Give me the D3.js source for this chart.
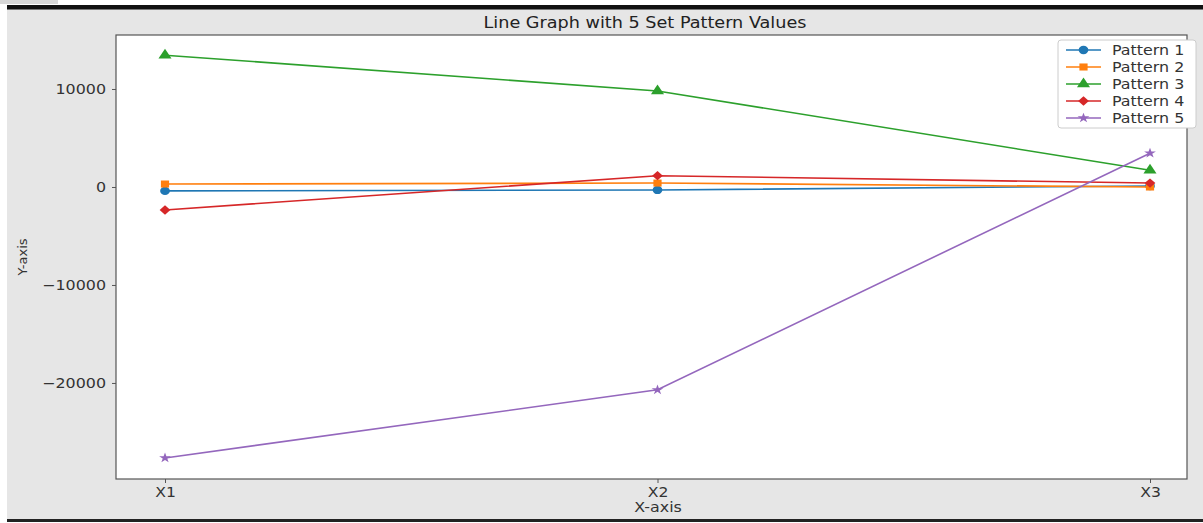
<!DOCTYPE html>
<html><head><meta charset="utf-8">
<script src="https://cdn.jsdelivr.net/npm/d3@7"></script>
<style>
body{margin:0;background:#fff;}
svg{display:block;font-family:"DejaVu Sans",sans-serif;}
</style></head>
<body><svg id="c" width="1203" height="523"></svg>
<script>
const categories = ["X1","X2","X3"];
const seriesNames = ["Pattern 1","Pattern 2","Pattern 3","Pattern 4","Pattern 5"];
const pattern1 = [-400, -300, 100];
const pattern2 = [300, 400, 0];
const pattern3 = [13450, 9800, 1700];
const pattern4 = [-2350, 1150, 400];
const pattern5 = [-27650, -20700, 3450];
const yTicks = [-20000, -10000, 0, 10000];
const colors = ["#1f77b4","#ff7f0e","#2ca02c","#d62728","#9467bd"];
const symbols = [d3.symbolCircle, d3.symbolSquare, d3.symbolTriangle, d3.symbolDiamond2, d3.symbolStar];
const sizes = [55, 50, 55, 55, 32];
const seriesVals = [pattern1, pattern2, pattern3, pattern4, pattern5];
const SX = 1.16; // horizontal stretch of the reference image text

const svg = d3.select("#c");
// screenshot frame
svg.append("rect").attr("x",0).attr("y",0).attr("width",58).attr("height",4).attr("fill","#d8d8d8");
svg.append("rect").attr("x",7).attr("y",5).attr("width",1196).attr("height",515).attr("fill","#e6e6e6");
svg.append("rect").attr("x",7).attr("y",5).attr("width",1196).attr("height",4).attr("fill","#111");
svg.append("rect").attr("x",7).attr("y",9).attr("width",1196).attr("height",1).attr("fill","#777");
svg.append("rect").attr("x",7).attr("y",519).attr("width",1196).attr("height",3).attr("fill","#222");

const L=116, R=1187, T=35, B=479;
const x = d3.scalePoint().domain(categories).range([165,1150]);
const y = d3.scaleLinear().domain([-29800, 15510]).range([B, T]);

svg.append("rect").attr("x",L).attr("y",T).attr("width",R-L).attr("height",B-T)
  .attr("fill","#fff").attr("stroke","#555").attr("stroke-width",1.2);

function stretch(sel){
  sel.each(function(){
    const t = d3.select(this);
    const xv = +t.attr("x") || 0, yv = +t.attr("y") || 0;
    t.attr("x",0).attr("y",0).attr("transform",`translate(${xv},${yv}) scale(${SX},1)`);
  });
}

const fmt = d => (d<0?"\u2212":"") + Math.abs(d);
const yAxis = svg.append("g").attr("transform",`translate(${L},0)`)
  .call(d3.axisLeft(y).tickValues(yTicks).tickFormat(fmt).tickSize(4).tickPadding(6));
yAxis.select(".domain").remove();
yAxis.selectAll("text").attr("font-size",13.7).attr("fill","#333").attr("font-family","DejaVu Sans").call(stretch);
yAxis.selectAll("line").attr("stroke","#555");

const xAxis = svg.append("g").attr("transform",`translate(0,${B})`)
  .call(d3.axisBottom(x).tickSize(4).tickPadding(4));
xAxis.select(".domain").remove();
xAxis.selectAll("text").attr("font-size",13.5).attr("fill","#333").attr("font-family","DejaVu Sans").call(stretch);
xAxis.selectAll("line").attr("stroke","#555");

svg.append("text").attr("x",645).attr("y",28).attr("text-anchor","middle")
  .attr("font-size",15.2).attr("fill","#222").text("Line Graph with 5 Set Pattern Values").call(stretch);
svg.append("text").attr("x",658).attr("y",512).attr("text-anchor","middle")
  .attr("font-size",13.7).attr("fill","#333").text("X-axis").call(stretch);
svg.append("text").attr("transform","translate(27,257) rotate(-90)").attr("text-anchor","middle")
  .attr("font-size",13).attr("fill","#333").text("Y-axis");

const line = d3.line().x((d,i)=>x(categories[i])).y(d=>y(d));
seriesVals.forEach((vals,k)=>{
  svg.append("path").datum(vals).attr("d",line).attr("fill","none")
    .attr("stroke",colors[k]).attr("stroke-width",1.6);
  svg.selectAll(null).data(vals).enter().append("path")
    .attr("transform",(d,i)=>`translate(${x(categories[i])},${y(d)}) scale(${SX},1)`)
    .attr("d",d3.symbol().type(symbols[k]).size(sizes[k]))
    .attr("fill",colors[k]);
});

// legend
const lg = svg.append("g");
lg.append("rect").attr("x",1058).attr("y",40).attr("width",138).attr("height",88).attr("rx",3)
  .attr("fill","#fff").attr("stroke","#ccc");
seriesNames.forEach((n,k)=>{
  const yy = 50 + k*17;
  lg.append("line").attr("x1",1066).attr("x2",1101).attr("y1",yy).attr("y2",yy)
    .attr("stroke",colors[k]).attr("stroke-width",1.6);
  lg.append("path").attr("transform",`translate(1083.5,${yy}) scale(${SX},1)`)
    .attr("d",d3.symbol().type(symbols[k]).size(sizes[k])).attr("fill",colors[k]);
  lg.append("text").attr("x",1112).attr("y",yy+4.5).attr("font-size",13.7).attr("fill","#333").text(n).call(stretch);
});
</script></body></html>
